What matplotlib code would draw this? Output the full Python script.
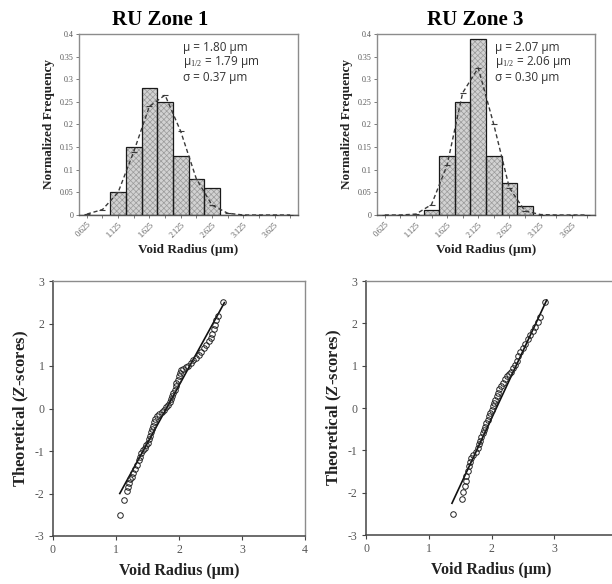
import matplotlib
matplotlib.use("Agg")
import matplotlib.pyplot as plt
import numpy as np

# ---------------- data ----------------
bin_labels = ["0.625", "0.875", "1.125", "1.375", "1.625", "1.875", "2.125",
              "2.375", "2.625", "2.875", "3.125", "3.375", "3.625", "3.875"]

zone1_freq = [0, 0, 0.05, 0.15, 0.28, 0.25, 0.13, 0.08, 0.06, 0, 0, 0, 0, 0]
zone1_fit = [0.002, 0.012, 0.05, 0.14, 0.24, 0.265, 0.185, 0.08, 0.022, 0.004, 0, 0, 0, 0]
zone3_freq = [0, 0, 0, 0.01, 0.13, 0.25, 0.39, 0.13, 0.07, 0.02, 0, 0, 0, 0]
zone3_fit = [0, 0, 0.002, 0.023, 0.11, 0.27, 0.325, 0.2, 0.06, 0.009, 0.001, 0, 0, 0]

zone1_stats = ["μ = 1.80 μm", "μ$_{1/2}$ = 1.79 μm", "σ = 0.37 μm"]
zone3_stats = ["μ = 2.07 μm", "μ$_{1/2}$ = 2.06 μm", "σ = 0.30 μm"]

qq1_x = [1.06, 1.12, 1.17, 1.19, 1.21, 1.23, 1.25, 1.27, 1.30, 1.33, 1.36, 1.38, 1.40,
         1.43, 1.46, 1.48, 1.50, 1.52, 1.54, 1.55, 1.57, 1.59, 1.60, 1.62, 1.65, 1.69,
         1.73, 1.76, 1.79, 1.82, 1.85, 1.87, 1.89, 1.91, 1.93, 1.95, 1.96, 1.98, 2.00,
         2.01, 2.03, 2.07, 2.11, 2.15, 2.19, 2.23, 2.27, 2.31, 2.35, 2.39, 2.43, 2.47,
         2.50, 2.53, 2.55, 2.57, 2.59, 2.62, 2.70]
qq1_z = [-2.50, -2.15, -1.95, -1.85, -1.75, -1.67, -1.60, -1.52, -1.42, -1.32, -1.22, -1.13,
         -1.05, -0.98, -0.93, -0.87, -0.80, -0.72, -0.64, -0.56, -0.48, -0.40, -0.32, -0.25,
         -0.18, -0.12, -0.08, -0.03, 0.03, 0.09, 0.15, 0.22, 0.29, 0.36, 0.44, 0.52, 0.60,
         0.68, 0.76, 0.84, 0.90, 0.93, 0.97, 1.01, 1.07, 1.13, 1.20, 1.27, 1.34, 1.42, 1.50,
         1.58, 1.67, 1.76, 1.86, 1.97, 2.08, 2.18, 2.50]
qq1_line_x = [1.06, 2.72]
qq1_line_z = [-2.0, 2.49]

qq3_x = [1.38, 1.53, 1.55, 1.57, 1.59, 1.60, 1.62, 1.64, 1.66, 1.68, 1.71, 1.75, 1.78,
         1.80, 1.82, 1.84, 1.86, 1.88, 1.90, 1.92, 1.94, 1.96, 1.98, 2.00, 2.02, 2.04,
         2.06, 2.08, 2.10, 2.12, 2.15, 2.18, 2.21, 2.24, 2.28, 2.31, 2.34, 2.37, 2.40,
         2.43, 2.46, 2.50, 2.54, 2.58, 2.62, 2.66, 2.70, 2.74, 2.78, 2.85]
qq3_z = [-2.50, -2.15, -1.98, -1.85, -1.72, -1.60, -1.48, -1.38, -1.28, -1.18, -1.10,
         -1.03, -0.95, -0.86, -0.77, -0.68, -0.60, -0.52, -0.44, -0.36, -0.28, -0.20,
         -0.12, -0.04, 0.04, 0.12, 0.20, 0.28, 0.36, 0.44, 0.52, 0.60, 0.68, 0.76, 0.80,
         0.86, 0.94, 1.02, 1.12, 1.22, 1.32, 1.42, 1.52, 1.62, 1.72, 1.82, 1.92, 2.02,
         2.15, 2.50]
qq3_line_x = [1.37, 2.88]
qq3_line_z = [-2.25, 2.55]

# ---------------- figure ----------------
W, H = 612, 584
fig = plt.figure(figsize=(W / 100, H / 100), dpi=100)
fig.patch.set_facecolor("white")

SERIF = ["Liberation Serif", "DejaVu Serif"]
SANS = ["Open Sans", "DejaVu Sans"]

plt.rcParams["mathtext.fontset"] = "custom"
plt.rcParams["mathtext.rm"] = "Liberation Serif"
plt.rcParams["mathtext.it"] = "Liberation Serif:italic"
plt.rcParams["mathtext.bf"] = "Liberation Serif:bold"
plt.rcParams["mathtext.bfit"] = "Liberation Serif:bold:italic"
plt.rcParams["hatch.linewidth"] = 0.5


def ax_px(l, t, r, b):
    return fig.add_axes([l / W, 1 - b / H, (r - l) / W, (b - t) / H])


def hist_panel(rect, freq, fit, stats, title, title_x, stats_x):
    ax = ax_px(*rect)
    idx = np.arange(len(bin_labels))
    ax.bar(idx, freq, width=1.0, color="#d2d2d2", hatch="xxxxxx",
           edgecolor="#9a9a9a", linewidth=0, zorder=2)
    ax.bar(idx, freq, width=1.0, fill=False, edgecolor="#1a1a1a",
           linewidth=0.9, zorder=3)
    ax.plot(idx, fit, linestyle=(0, (3, 2)), color="#3a3a3a", linewidth=1.0,
            marker="_", markersize=4, markeredgewidth=0.8, zorder=4)
    ax.set_xlim(-0.5, len(bin_labels) - 0.5)
    ax.set_ylim(0, 0.4)
    ax.set_xticks(idx[::2])
    ax.set_xticklabels(bin_labels[::2], rotation=45, ha="right", va="top",
                       rotation_mode="anchor", fontsize=5.8, color="#555555",
                       family=SERIF)
    ax.set_xticks(idx, minor=True)
    yt = np.arange(0, 0.401, 0.05)
    ax.set_yticks(yt)
    ax.set_yticklabels(["0" if v == 0 else f"{v:.2f}".rstrip("0") for v in yt],
                       fontsize=5.8, color="#555555", family=SERIF)
    ax.tick_params(axis="both", which="both", length=2, width=0.6, color="#666666",
                   pad=2)
    for s in ax.spines.values():
        s.set_color("#8c8c8c")
        s.set_linewidth(1.0)
    ax.spines["bottom"].set_color("#555555")
    ax.set_ylabel("Normalized Frequency", fontsize=9.5, fontweight="bold",
                  family=SERIF, labelpad=3, color="#222222")
    ax.set_xlabel("Void Radius (μm)", fontsize=9.5, fontweight="bold",
                  family=SERIF, labelpad=4, color="#222222")
    fig.text(title_x / W, 1 - 20 / H, title, ha="center", va="center",
             fontsize=15, fontweight="bold", family=SERIF)
    for i, s in enumerate(stats):
        fig.text(stats_x / W, 1 - (48 + 14.5 * i) / H, s, ha="left", va="center",
                 fontsize=8.5, family=SANS, color="#333333")
    return ax


def qq_panel(rect, x, z, lx, lz, show_last=True):
    ax = ax_px(*rect)
    ax.plot(lx, lz, color="#111111", linewidth=1.2, zorder=2)
    ax.plot(x, z, linestyle="none", marker="o", markersize=4.0,
            markerfacecolor="none", markeredgecolor="#222222",
            markeredgewidth=0.7, zorder=3)
    ax.set_xlim(0, 4)
    ax.set_ylim(-3, 3)
    ax.set_xticks([0, 1, 2, 3, 4])
    ax.set_yticks([-3, -2, -1, 0, 1, 2, 3])
    ax.set_xticklabels(["0", "1", "2", "3", "4" if show_last else ""], family=SERIF,
                       fontsize=8.5, color="#555555")
    ax.set_yticklabels(["-3", "-2", "-1", "0", "1", "2", "3"], family=SERIF,
                       fontsize=8.5, color="#555555")
    ax.tick_params(axis="both", length=3, width=0.8, color="#444444", pad=3)
    for k in ["top", "right"]:
        ax.spines[k].set_color("#8c8c8c")
        ax.spines[k].set_linewidth(1.0)
    for k in ["left", "bottom"]:
        ax.spines[k].set_color("#444444")
        ax.spines[k].set_linewidth(1.1)
    ax.set_xlabel("Void Radius (μm)", fontsize=11.5, fontweight="bold",
                  family=SERIF, labelpad=5, color="#222222")
    ax.set_ylabel("Theoretical ($\\mathbfit{Z}$-scores)", fontsize=12,
                  fontweight="bold", family=SERIF, labelpad=3, color="#222222")
    return ax


hist_panel((79, 34, 298, 215), zone1_freq, zone1_fit, zone1_stats,
           "RU Zone 1", 160, 183)
hist_panel((377, 34, 595, 215), zone3_freq, zone3_fit, zone3_stats,
           "RU Zone 3", 475, 495)
qq_panel((53, 281, 305, 536), qq1_x, qq1_z, qq1_line_x, qq1_line_z)
qq_panel((366, 281, 617, 535), qq3_x, qq3_z, qq3_line_x, qq3_line_z, show_last=False)

fig.savefig("out.png", dpi=100, facecolor="white")
